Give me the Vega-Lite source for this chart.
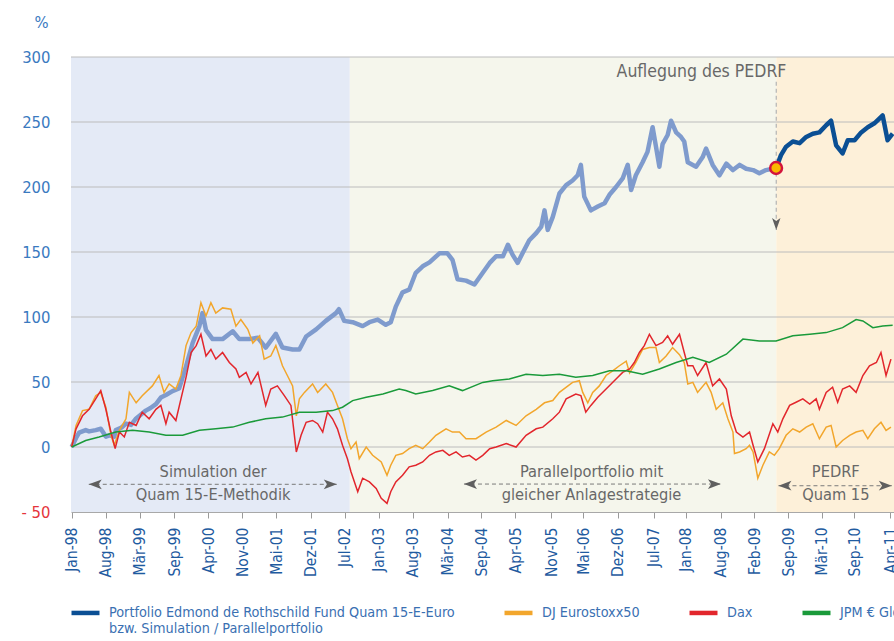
{
  "$schema": "https://vega.github.io/schema/vega-lite/v6.json",
  "width": 823,
  "height": 455,
  "autosize": {"type": "none"},
  "padding": {"left": 71, "top": 57, "right": 0, "bottom": 129},
  "background": "white",
  "config": {
    "font": "Liberation Sans Narrow, Arial Narrow, DejaVu Sans Condensed, sans-serif",
    "view": {"stroke": null},
    "axis": {"labelOverlap": false}
  },
  "datasets": {
    "periods": [
      {"phase": "Simulation", "d": "1998-01-25", "d2": "2002-07-31"},
      {"phase": "Parallelportfolio", "d": "2002-07-31", "d2": "2009-06-25"},
      {"phase": "PEDRF", "d": "2009-06-25", "d2": "2011-05-22"}
    ],
    "grid": [{"v": 0}, {"v": 50}, {"v": 100}, {"v": 150}, {"v": 200}, {"v": 250}, {"v": 300}],
    "sim": [
      {"d":"1998-01-29","v":0},{"d":"1998-02-24","v":7},{"d":"1998-03-14","v":11},{"d":"1998-04-22","v":13},{"d":"1998-05-12","v":12},{"d":"1998-06-20","v":13},{"d":"1998-07-20","v":14},{"d":"1998-08-19","v":8},{"d":"1998-09-09","v":9},{"d":"1998-10-08","v":8},{"d":"1998-10-17","v":13},{"d":"1998-11-20","v":15},{"d":"1998-12-16","v":18},{"d":"1999-01-15","v":17},{"d":"1999-02-14","v":22},{"d":"1999-03-15","v":25},{"d":"1999-04-12","v":28},{"d":"1999-05-10","v":30},{"d":"1999-06-11","v":33},{"d":"1999-07-10","v":38},{"d":"1999-08-09","v":40},{"d":"1999-09-17","v":43},{"d":"1999-10-26","v":45},{"d":"1999-12-06","v":62},{"d":"2000-01-14","v":80},{"d":"2000-02-23","v":93},{"d":"2000-03-12","v":103},{"d":"2000-04-02","v":90},{"d":"2000-05-11","v":83},{"d":"2000-07-09","v":83},{"d":"2000-09-07","v":89},{"d":"2000-10-16","v":83},{"d":"2000-12-14","v":83},{"d":"2001-02-03","v":84},{"d":"2001-03-21","v":76.5},{"d":"2001-05-20","v":87},{"d":"2001-06-28","v":76.5},{"d":"2001-08-27","v":75},{"d":"2001-10-06","v":75},{"d":"2001-11-15","v":85},{"d":"2002-01-13","v":90.5},{"d":"2002-03-11","v":97},{"d":"2002-05-10","v":103},{"d":"2002-05-28","v":106},{"d":"2002-06-28","v":97},{"d":"2002-08-17","v":96},{"d":"2002-10-15","v":93},{"d":"2002-11-24","v":96},{"d":"2003-01-12","v":98},{"d":"2003-03-01","v":94},{"d":"2003-03-30","v":96},{"d":"2003-04-29","v":108},{"d":"2003-06-08","v":119},{"d":"2003-07-17","v":121},{"d":"2003-08-25","v":134},{"d":"2003-10-05","v":139},{"d":"2003-11-14","v":142},{"d":"2004-01-12","v":149},{"d":"2004-02-28","v":149},{"d":"2004-03-29","v":144},{"d":"2004-04-28","v":129},{"d":"2004-06-17","v":128},{"d":"2004-08-06","v":125},{"d":"2004-09-24","v":134},{"d":"2004-11-04","v":141.6},{"d":"2004-12-12","v":146.7},{"d":"2005-01-21","v":146.7},{"d":"2005-02-20","v":155.6},{"d":"2005-03-19","v":148},{"d":"2005-04-18","v":141.6},{"d":"2005-05-17","v":149},{"d":"2005-06-26","v":159},{"d":"2005-08-06","v":164.5},{"d":"2005-09-05","v":169.6},{"d":"2005-09-24","v":182},{"d":"2005-10-13","v":167},{"d":"2005-11-12","v":177},{"d":"2005-12-21","v":195},{"d":"2006-01-30","v":201.5},{"d":"2006-03-09","v":205},{"d":"2006-04-08","v":209},{"d":"2006-04-27","v":217},{"d":"2006-05-17","v":192.6},{"d":"2006-06-25","v":182},{"d":"2006-08-05","v":185},{"d":"2006-09-14","v":187.5},{"d":"2006-10-13","v":194},{"d":"2006-11-21","v":200},{"d":"2006-12-30","v":206.6},{"d":"2007-01-29","v":217},{"d":"2007-02-18","v":197.7},{"d":"2007-03-18","v":209},{"d":"2007-04-27","v":219},{"d":"2007-05-26","v":227},{"d":"2007-06-25","v":246},{"d":"2007-07-15","v":231},{"d":"2007-08-04","v":215.6},{"d":"2007-08-23","v":233},{"d":"2007-09-22","v":240},{"d":"2007-10-12","v":251},{"d":"2007-11-11","v":242},{"d":"2007-12-10","v":238.5},{"d":"2007-12-29","v":235},{"d":"2008-01-19","v":219},{"d":"2008-03-08","v":215.6},{"d":"2008-04-16","v":223},{"d":"2008-05-06","v":229.6},{"d":"2008-06-14","v":217},{"d":"2008-07-24","v":209},{"d":"2008-09-03","v":218},{"d":"2008-10-12","v":213},{"d":"2008-11-20","v":217},{"d":"2008-12-29","v":214},{"d":"2009-02-08","v":213},{"d":"2009-03-17","v":210.5},{"d":"2009-04-25","v":213},{"d":"2009-06-24","v":214.6}
    ],
    "fund": [
      {"d":"2009-06-24","v":214.6},{"d":"2009-07-23","v":224.5},{"d":"2009-08-22","v":231},{"d":"2009-10-01","v":235},{"d":"2009-11-10","v":233.7},{"d":"2009-12-19","v":238.5},{"d":"2010-01-27","v":241},{"d":"2010-03-07","v":242},{"d":"2010-04-16","v":247.5},{"d":"2010-05-15","v":251},{"d":"2010-06-14","v":232},{"d":"2010-07-22","v":225.8},{"d":"2010-08-22","v":236},{"d":"2010-10-01","v":236},{"d":"2010-11-09","v":242},{"d":"2010-12-18","v":246},{"d":"2011-01-26","v":249},{"d":"2011-03-16","v":255},{"d":"2011-04-14","v":236},{"d":"2011-05-14","v":241}
    ],
    "stoxx": [
      {"d":"1998-01-29","v":0},{"d":"1998-02-24","v":16.6},{"d":"1998-04-03","v":28},{"d":"1998-05-12","v":29},{"d":"1998-06-20","v":39.5},{"d":"1998-07-20","v":42},{"d":"1998-08-19","v":30.6},{"d":"1998-09-18","v":9},{"d":"1998-10-08","v":1.3},{"d":"1998-11-07","v":12.8},{"d":"1998-12-16","v":21.7},{"d":"1999-01-05","v":42},{"d":"1999-02-14","v":34},{"d":"1999-03-22","v":39.5},{"d":"1999-05-21","v":47},{"d":"1999-06-29","v":55},{"d":"1999-07-29","v":42},{"d":"1999-08-28","v":48.5},{"d":"1999-10-07","v":44.6},{"d":"1999-11-06","v":55},{"d":"1999-12-06","v":78},{"d":"2000-01-05","v":88},{"d":"2000-02-04","v":93},{"d":"2000-03-03","v":111},{"d":"2000-04-02","v":100.8},{"d":"2000-05-01","v":111},{"d":"2000-05-30","v":103},{"d":"2000-07-09","v":107},{"d":"2000-08-27","v":106},{"d":"2000-09-26","v":93},{"d":"2000-10-25","v":98},{"d":"2000-12-05","v":90.5},{"d":"2001-01-04","v":80},{"d":"2001-02-13","v":85.5},{"d":"2001-03-12","v":67.6},{"d":"2001-04-20","v":70},{"d":"2001-05-20","v":78},{"d":"2001-06-28","v":62.5},{"d":"2001-07-27","v":55},{"d":"2001-08-27","v":47},{"d":"2001-09-18","v":24},{"d":"2001-10-06","v":37},{"d":"2001-11-05","v":42},{"d":"2001-12-23","v":48.5},{"d":"2002-01-22","v":42},{"d":"2002-03-11","v":48.5},{"d":"2002-04-20","v":42},{"d":"2002-05-19","v":32},{"d":"2002-06-18","v":21.7},{"d":"2002-07-17","v":6.4},{"d":"2002-08-07","v":-1.3},{"d":"2002-09-06","v":3.8},{"d":"2002-09-25","v":-9},{"d":"2002-11-05","v":0},{"d":"2002-12-13","v":-6.4},{"d":"2003-02-02","v":-11.5},{"d":"2003-03-08","v":-21.7},{"d":"2003-03-30","v":-14},{"d":"2003-04-29","v":-6.4},{"d":"2003-06-08","v":-5},{"d":"2003-07-17","v":-1.3},{"d":"2003-08-25","v":1.3},{"d":"2003-10-05","v":-1.3},{"d":"2003-11-14","v":3.8},{"d":"2003-12-22","v":9},{"d":"2004-02-20","v":14},{"d":"2004-03-29","v":11.5},{"d":"2004-05-09","v":11.5},{"d":"2004-06-17","v":6.4},{"d":"2004-08-15","v":6.4},{"d":"2004-10-14","v":11.5},{"d":"2004-12-12","v":15.3},{"d":"2005-02-10","v":20.4},{"d":"2005-04-09","v":16.6},{"d":"2005-06-07","v":24},{"d":"2005-08-06","v":29},{"d":"2005-09-24","v":34},{"d":"2005-11-12","v":35.7},{"d":"2005-12-21","v":42},{"d":"2006-03-09","v":49.7},{"d":"2006-04-18","v":51},{"d":"2006-05-08","v":42},{"d":"2006-06-07","v":34},{"d":"2006-07-06","v":42},{"d":"2006-08-14","v":47},{"d":"2006-09-23","v":55},{"d":"2006-11-03","v":58.7},{"d":"2006-12-11","v":62.5},{"d":"2007-01-20","v":66},{"d":"2007-02-09","v":57},{"d":"2007-03-18","v":65},{"d":"2007-04-27","v":75},{"d":"2007-06-06","v":76.5},{"d":"2007-07-15","v":76.5},{"d":"2007-08-04","v":65},{"d":"2007-09-13","v":70},{"d":"2007-10-21","v":76.5},{"d":"2007-12-01","v":71},{"d":"2007-12-29","v":65},{"d":"2008-01-19","v":48.5},{"d":"2008-02-18","v":49.7},{"d":"2008-03-17","v":42},{"d":"2008-05-06","v":49.7},{"d":"2008-06-05","v":42},{"d":"2008-07-05","v":29},{"d":"2008-08-13","v":34},{"d":"2008-09-12","v":21.7},{"d":"2008-10-12","v":11.5},{"d":"2008-10-21","v":-5},{"d":"2008-11-20","v":-3.8},{"d":"2008-12-29","v":-1.3},{"d":"2009-01-18","v":1.3},{"d":"2009-02-08","v":-3.8},{"d":"2009-03-08","v":-24},{"d":"2009-04-07","v":-14},{"d":"2009-05-15","v":-3.8},{"d":"2009-06-14","v":-6.4},{"d":"2009-07-13","v":-1.3},{"d":"2009-08-22","v":9},{"d":"2009-10-01","v":14},{"d":"2009-11-10","v":11.5},{"d":"2009-12-19","v":15.3},{"d":"2010-01-27","v":17.9},{"d":"2010-03-07","v":6.4},{"d":"2010-04-16","v":15.3},{"d":"2010-05-15","v":16.6},{"d":"2010-06-14","v":0},{"d":"2010-07-22","v":5},{"d":"2010-09-02","v":9},{"d":"2010-10-10","v":11.5},{"d":"2010-11-19","v":12.8},{"d":"2010-12-18","v":6.4},{"d":"2011-01-26","v":14},{"d":"2011-03-06","v":19},{"d":"2011-04-05","v":12.8},{"d":"2011-05-04","v":15.3}
    ],
    "dax": [
      {"d":"1998-01-29","v":0},{"d":"1998-02-24","v":14},{"d":"1998-04-03","v":24},{"d":"1998-05-12","v":29},{"d":"1998-06-20","v":37},{"d":"1998-07-20","v":43.4},{"d":"1998-08-19","v":29},{"d":"1998-09-18","v":11.5},{"d":"1998-10-13","v":-1.3},{"d":"1998-11-07","v":11.5},{"d":"1998-12-06","v":7.7},{"d":"1999-01-05","v":19},{"d":"1999-02-14","v":16.6},{"d":"1999-03-22","v":26.8},{"d":"1999-05-02","v":21.7},{"d":"1999-06-11","v":29},{"d":"1999-07-10","v":32},{"d":"1999-08-09","v":17.9},{"d":"1999-08-28","v":26.8},{"d":"1999-10-07","v":20.4},{"d":"1999-11-06","v":37},{"d":"1999-12-06","v":53.6},{"d":"2000-01-05","v":72.7},{"d":"2000-02-04","v":78},{"d":"2000-03-03","v":86.7},{"d":"2000-04-02","v":70},{"d":"2000-05-01","v":75},{"d":"2000-05-30","v":67.6},{"d":"2000-07-09","v":72.7},{"d":"2000-08-18","v":65},{"d":"2000-09-26","v":60},{"d":"2000-10-16","v":53.6},{"d":"2000-11-25","v":57.4},{"d":"2000-12-24","v":48.5},{"d":"2001-02-03","v":57.4},{"d":"2001-03-21","v":32},{"d":"2001-04-20","v":44.6},{"d":"2001-05-29","v":47},{"d":"2001-07-09","v":39.5},{"d":"2001-08-17","v":32},{"d":"2001-09-18","v":-3.8},{"d":"2001-10-16","v":9},{"d":"2001-11-15","v":19},{"d":"2001-12-23","v":20.4},{"d":"2002-01-22","v":17.9},{"d":"2002-02-21","v":11.5},{"d":"2002-03-21","v":26.8},{"d":"2002-04-20","v":21.7},{"d":"2002-05-19","v":14},{"d":"2002-06-18","v":1.3},{"d":"2002-07-17","v":-9},{"d":"2002-08-07","v":-19},{"d":"2002-09-16","v":-34.4},{"d":"2002-10-15","v":-24},{"d":"2002-11-24","v":-26.8},{"d":"2003-01-03","v":-31.9},{"d":"2003-02-02","v":-39.5},{"d":"2003-03-08","v":-43.4},{"d":"2003-03-30","v":-34.4},{"d":"2003-04-29","v":-26.8},{"d":"2003-06-08","v":-21.7},{"d":"2003-07-17","v":-15.3},{"d":"2003-08-25","v":-14},{"d":"2003-10-05","v":-11.5},{"d":"2003-11-14","v":-6.4},{"d":"2003-12-22","v":-3.8},{"d":"2004-02-01","v":-2.6},{"d":"2004-03-10","v":-6.4},{"d":"2004-04-19","v":-3.8},{"d":"2004-05-27","v":-7.7},{"d":"2004-07-07","v":-6.4},{"d":"2004-08-15","v":-10},{"d":"2004-09-24","v":-6.4},{"d":"2004-11-04","v":-1.3},{"d":"2004-12-12","v":0},{"d":"2005-02-10","v":2.6},{"d":"2005-04-09","v":0},{"d":"2005-06-07","v":9},{"d":"2005-08-06","v":14},{"d":"2005-09-14","v":15.3},{"d":"2005-11-12","v":21.7},{"d":"2005-12-21","v":26.8},{"d":"2006-01-30","v":37},{"d":"2006-03-28","v":40.8},{"d":"2006-04-27","v":39.5},{"d":"2006-05-26","v":26.8},{"d":"2006-06-25","v":32},{"d":"2006-08-05","v":38.3},{"d":"2006-09-23","v":44.6},{"d":"2006-11-21","v":52.3},{"d":"2006-12-30","v":57.4},{"d":"2007-02-09","v":60},{"d":"2007-03-09","v":65},{"d":"2007-04-08","v":72.7},{"d":"2007-05-07","v":78},{"d":"2007-06-06","v":86.7},{"d":"2007-07-15","v":78},{"d":"2007-08-23","v":80.4},{"d":"2007-09-22","v":85.5},{"d":"2007-10-21","v":79},{"d":"2007-12-01","v":86.7},{"d":"2007-12-29","v":72.7},{"d":"2008-01-19","v":62.5},{"d":"2008-02-18","v":62.5},{"d":"2008-03-17","v":55},{"d":"2008-05-06","v":65},{"d":"2008-06-14","v":47},{"d":"2008-07-24","v":52.3},{"d":"2008-09-03","v":44.6},{"d":"2008-10-02","v":24},{"d":"2008-11-01","v":11.5},{"d":"2008-12-10","v":7.7},{"d":"2009-01-18","v":11.5},{"d":"2009-02-08","v":1.3},{"d":"2009-03-08","v":-11.5},{"d":"2009-04-16","v":-1.3},{"d":"2009-06-05","v":17.9},{"d":"2009-07-04","v":11.5},{"d":"2009-08-03","v":21.7},{"d":"2009-09-12","v":32},{"d":"2009-10-20","v":34.4},{"d":"2009-11-29","v":37},{"d":"2010-01-09","v":33},{"d":"2010-02-16","v":37},{"d":"2010-03-07","v":29},{"d":"2010-04-16","v":42},{"d":"2010-05-24","v":46},{"d":"2010-06-23","v":34.4},{"d":"2010-07-22","v":44.6},{"d":"2010-09-02","v":47},{"d":"2010-10-10","v":42},{"d":"2010-11-19","v":55},{"d":"2010-12-28","v":62.5},{"d":"2011-02-07","v":65},{"d":"2011-03-06","v":72.7},{"d":"2011-04-05","v":55},{"d":"2011-05-04","v":67.6}
    ],
    "jpm": [
      {"d":"1998-01-29","v":0},{"d":"1998-04-22","v":5},{"d":"1998-07-10","v":7.7},{"d":"1998-10-17","v":11.5},{"d":"1999-01-24","v":12.8},{"d":"1999-05-02","v":11.5},{"d":"1999-08-09","v":9},{"d":"1999-11-16","v":9},{"d":"2000-02-23","v":12.8},{"d":"2000-05-30","v":14},{"d":"2000-09-07","v":15.3},{"d":"2000-12-14","v":19},{"d":"2001-03-21","v":21.7},{"d":"2001-06-28","v":23},{"d":"2001-10-06","v":26.8},{"d":"2002-01-13","v":26.8},{"d":"2002-04-20","v":28},{"d":"2002-06-18","v":30.6},{"d":"2002-08-17","v":35.7},{"d":"2002-11-05","v":38.3},{"d":"2003-02-12","v":40.8},{"d":"2003-05-19","v":44.6},{"d":"2003-06-27","v":43.4},{"d":"2003-08-25","v":40.8},{"d":"2003-12-03","v":43.4},{"d":"2004-03-10","v":47},{"d":"2004-05-27","v":43.4},{"d":"2004-09-24","v":49.7},{"d":"2004-11-22","v":51},{"d":"2005-02-28","v":52.3},{"d":"2005-06-07","v":56},{"d":"2005-09-14","v":55},{"d":"2005-12-21","v":56},{"d":"2006-03-28","v":53.6},{"d":"2006-07-06","v":55},{"d":"2006-10-13","v":58.7},{"d":"2007-01-20","v":58.7},{"d":"2007-04-27","v":56},{"d":"2007-08-04","v":60},{"d":"2007-11-11","v":65},{"d":"2008-02-18","v":69},{"d":"2008-05-25","v":65},{"d":"2008-09-03","v":71.4},{"d":"2008-12-10","v":83},{"d":"2009-03-17","v":81.6},{"d":"2009-06-24","v":81.6},{"d":"2009-10-01","v":85.5},{"d":"2010-01-09","v":86.7},{"d":"2010-04-16","v":88},{"d":"2010-07-22","v":91.8},{"d":"2010-10-10","v":98},{"d":"2010-11-19","v":97},{"d":"2011-01-17","v":91.8},{"d":"2011-03-16","v":93},{"d":"2011-05-14","v":93.6}
    ],
    "notes": [
      {"d": "2000-05-14", "v": -19.2, "t": "Simulation der\nQuam 15-E-Methodik"},
      {"d": "2006-06-29", "v": -19.2, "t": "Parallelportfolio mit\ngleicher Anlagestrategie"},
      {"d": "2010-06-12", "v": -19.2, "t": "PEDRF\nQuam 15"}
    ],
    "headline": [
      {"d": "2008-04-09", "v": 288.7, "t": "Auflegung des PEDRF"}
    ],
    "arrows": [
      {"d": "1998-05-10", "d2": "2002-05-15", "v": -28.7},
      {"d": "2004-06-05", "d2": "2008-08-02", "v": -28.5},
      {"d": "2009-07-08", "d2": "2011-05-09", "v": -29.8}
    ],
    "launch": [{"d": "2009-06-25", "v": 281, "v2": 167}],
    "marker": [{"d": "2009-06-24", "v": 214.6}]
  },
  "layer": [
    {
      "data": {"name": "periods"},
      "mark": {"type": "rect"},
      "encoding": {
        "x": {
          "field": "d", "type": "temporal",
          "scale": {"domain": [{"year": 1998, "month": 1, "date": 25}, {"year": 2011, "month": 5, "date": 22}]},
          "axis": {
            "title": null,
            "tickCount": 40,
            "values": [
              {"year":1998,"month":1,"date":29},{"year":1998,"month":8,"date":18},{"year":1999,"month":3,"date":7},{"year":1999,"month":9,"date":26},{"year":2000,"month":4,"date":14},{"year":2000,"month":11,"date":3},{"year":2001,"month":5,"date":22},{"year":2001,"month":12,"date":11},{"year":2002,"month":7,"date":2},{"year":2003,"month":1,"date":18},{"year":2003,"month":8,"date":7},{"year":2004,"month":3,"date":2},{"year":2004,"month":9,"date":14},{"year":2005,"month":4,"date":3},{"year":2005,"month":11,"date":2},{"year":2006,"month":5,"date":10},{"year":2006,"month":12,"date":2},{"year":2007,"month":7,"date":2},{"year":2008,"month":1,"date":7},{"year":2008,"month":8,"date":2},{"year":2009,"month":2,"date":14},{"year":2009,"month":9,"date":3},{"year":2010,"month":3,"date":22},{"year":2010,"month":9,"date":29},{"year":2011,"month":4,"date":29}
            ],
            "labelExpr": "['Jan','Feb','Mär','Apr','Mai','Jun','Jul','Aug','Sep','Okt','Nov','Dez'][month(datum.value)] + '-' + timeFormat(datum.value, '%y')",
            "labelAngle": -90,
            "labelAlign": "right",
            "labelBaseline": "middle",
            "labelFontSize": 15.5,
            "labelColor": "#1f5ba0",
            "labelPadding": 9,
            "labelOverlap": false,
            "labelBound": false,
            "labelFlush": false,
            "tickColor": "#9a9a9a",
            "tickSize": 6,
            "domainColor": "#a8a8a8",
            "grid": false
          }
        },
        "x2": {"field": "d2"},
        "fill": {
          "field": "phase", "type": "nominal",
          "scale": {"domain": ["Simulation", "Parallelportfolio", "PEDRF"], "range": ["#e4eaf6", "#f5f6ec", "#fdf0d9"]},
          "legend": null
        }
      }
    },
    {
      "data": {"name": "grid"},
      "mark": {"type": "rule", "color": "#bcbcbc", "strokeWidth": 1},
      "encoding": {
        "y": {
          "field": "v", "type": "quantitative",
          "scale": {"domain": [-50, 300], "nice": false, "zero": false},
          "axis": {
            "title": "%",
            "titleAngle": 0,
            "titleX": -30,
            "titleY": -35,
            "titleAlign": "center",
            "titleBaseline": "middle",
            "titleColor": "#3a7abf",
            "titleFontSize": 16.5,
            "titleFontWeight": "normal",
            "tickCount": 20,
            "values": [-50, 0, 50, 100, 150, 200, 250, 300],
            "labelExpr": "datum.value < 0 ? '- ' + abs(datum.value) : datum.label",
            "labelColor": {"condition": {"test": "datum.value < 0", "value": "#e5343b"}, "value": "#3a7abf"},
            "labelFontSize": 16.5,
            "labelPadding": 21,
            "domain": false,
            "ticks": false,
            "grid": false
          }
        }
      }
    },
    {
      "data": {"name": "sim"},
      "mark": {"type": "line", "color": "#7f9bcd", "strokeWidth": 4.5, "strokeJoin": "round"},
      "encoding": {
        "x": {"field": "d", "type": "temporal"},
        "y": {"field": "v", "type": "quantitative"}
      }
    },
    {
      "data": {"name": "stoxx"},
      "mark": {"type": "line", "strokeWidth": 1.5},
      "encoding": {
        "x": {"field": "d", "type": "temporal"},
        "y": {"field": "v", "type": "quantitative"},
        "color": {"datum": "DJ Eurostoxx50"}
      }
    },
    {
      "data": {"name": "dax"},
      "mark": {"type": "line", "strokeWidth": 1.5},
      "encoding": {
        "x": {"field": "d", "type": "temporal"},
        "y": {"field": "v", "type": "quantitative"},
        "color": {"datum": "Dax"}
      }
    },
    {
      "data": {"name": "jpm"},
      "mark": {"type": "line", "strokeWidth": 1.5},
      "encoding": {
        "x": {"field": "d", "type": "temporal"},
        "y": {"field": "v", "type": "quantitative"},
        "color": {"datum": "JPM € Global Government Bond"}
      }
    },
    {
      "data": {"name": "fund"},
      "mark": {"type": "line", "strokeWidth": 4.5, "strokeJoin": "round"},
      "encoding": {
        "x": {"field": "d", "type": "temporal"},
        "y": {"field": "v", "type": "quantitative"},
        "color": {
          "datum": "Portfolio Edmond de Rothschild Fund Quam 15-E-Euro",
          "scale": {
            "domain": ["Portfolio Edmond de Rothschild Fund Quam 15-E-Euro", "DJ Eurostoxx50", "Dax", "JPM € Global Government Bond"],
            "range": ["#0b4f94", "#f2a62c", "#e2262c", "#1a9a3a"]
          },
          "legend": {
            "title": null,
            "orient": "none",
            "legendX": -2,
            "legendY": 539,
            "direction": "horizontal",
            "columns": 4,
            "padding": 0,
            "symbolType": "stroke",
            "symbolStrokeWidth": 4.5,
            "symbolSize": 784,
            "labelFontSize": 14.3,
            "labelColor": "#3a70b2",
            "labelLimit": 0,
            "labelOffset": 7,
            "columnPadding": 40,
            "labelExpr": "datum.label == 'Portfolio Edmond de Rothschild Fund Quam 15-E-Euro' ? ['Portfolio Edmond de Rothschild Fund Quam 15-E-Euro', 'bzw. Simulation / Parallelportfolio'] : [datum.label, '']"
          }
        }
      }
    },
    {
      "data": {"name": "launch"},
      "mark": {"type": "rule", "color": "#b4b4b4", "strokeDash": [4, 3], "strokeWidth": 1.2},
      "encoding": {
        "x": {"field": "d", "type": "temporal"},
        "y": {"field": "v", "type": "quantitative"},
        "y2": {"field": "v2"}
      }
    },
    {
      "data": {"name": "launch"},
      "mark": {"type": "point", "filled": true, "color": "#5f5f5f", "opacity": 1, "size": 144, "shape": "M0,0L-0.7,-2L0,-1.5L0.7,-2Z"},
      "encoding": {
        "x": {"field": "d", "type": "temporal"},
        "y": {"field": "v2", "type": "quantitative"}
      }
    },
    {
      "data": {"name": "marker"},
      "mark": {"type": "point", "filled": true, "fill": "#f9b800", "stroke": "#d3133c", "strokeWidth": 2.5, "opacity": 1, "size": 140, "shape": "circle"},
      "encoding": {
        "x": {"field": "d", "type": "temporal"},
        "y": {"field": "v", "type": "quantitative"}
      }
    },
    {
      "data": {"name": "arrows"},
      "mark": {"type": "rule", "color": "#7a7a7a", "strokeDash": [4, 3], "strokeWidth": 1},
      "encoding": {
        "x": {"field": "d", "type": "temporal"},
        "x2": {"field": "d2"},
        "y": {"field": "v", "type": "quantitative"}
      }
    },
    {
      "data": {"name": "arrows"},
      "mark": {"type": "point", "filled": true, "color": "#5f5f5f", "opacity": 1, "size": 169, "shape": "M0,0L2,-0.75L1.5,0L2,0.75Z"},
      "encoding": {
        "x": {"field": "d", "type": "temporal"},
        "y": {"field": "v", "type": "quantitative"}
      }
    },
    {
      "data": {"name": "arrows"},
      "mark": {"type": "point", "filled": true, "color": "#5f5f5f", "opacity": 1, "size": 169, "shape": "M0,0L-2,-0.75L-1.5,0L-2,0.75Z"},
      "encoding": {
        "x": {"field": "d2", "type": "temporal"},
        "y": {"field": "v", "type": "quantitative"}
      }
    },
    {
      "data": {"name": "notes"},
      "mark": {"type": "text", "lineBreak": "\n", "lineHeight": 23, "fontSize": 16.3, "color": "#686868", "align": "center", "baseline": "middle"},
      "encoding": {
        "x": {"field": "d", "type": "temporal"},
        "y": {"field": "v", "type": "quantitative"},
        "text": {"field": "t"}
      }
    },
    {
      "data": {"name": "headline"},
      "mark": {"type": "text", "fontSize": 17.5, "color": "#686868", "align": "center", "baseline": "middle"},
      "encoding": {
        "x": {"field": "d", "type": "temporal"},
        "y": {"field": "v", "type": "quantitative"},
        "text": {"field": "t"}
      }
    }
  ]
}
